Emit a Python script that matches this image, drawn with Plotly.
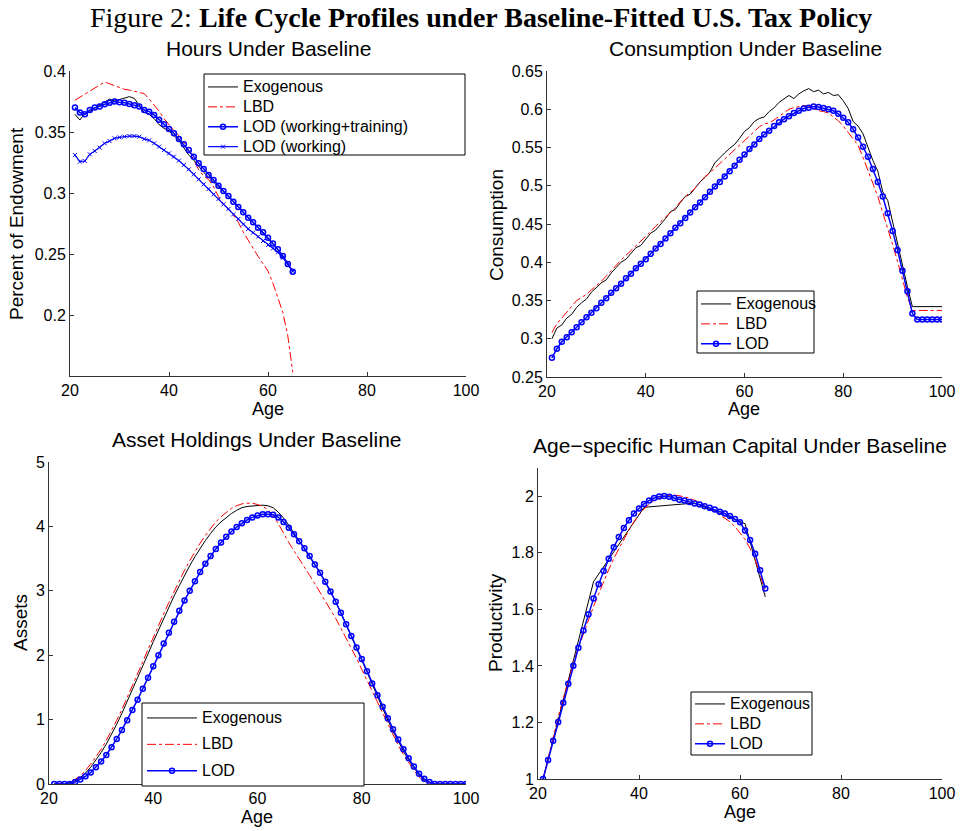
import plotly.graph_objects as go

# ---------------- data ----------------
ages_work = list(range(21, 66))
ages_life = list(range(21, 101))

hours_exo = [0.3645, 0.3598, 0.3653, 0.3667, 0.3694, 0.372, 0.3743, 0.377, 0.3754, 0.3768, 0.378, 0.379, 0.3775,
             0.372, 0.366, 0.3645, 0.361, 0.356, 0.353, 0.351, 0.347, 0.343, 0.337, 0.331, 0.327, 0.322, 0.317,
             0.313, 0.309, 0.305, 0.301, 0.2975, 0.293, 0.2885, 0.2842, 0.2798, 0.276, 0.2716, 0.268, 0.2637,
             0.2588, 0.2535, 0.248, 0.2418, 0.235]
hours_lbd = [0.376, 0.3785, 0.381, 0.3835, 0.386, 0.3885, 0.391, 0.3895, 0.388, 0.3865, 0.385, 0.3843, 0.3835,
             0.3826, 0.3815, 0.377, 0.372, 0.367, 0.361, 0.356, 0.351, 0.347, 0.341, 0.335, 0.327, 0.319, 0.314,
             0.311, 0.305, 0.297, 0.291, 0.287, 0.282, 0.276, 0.268, 0.261, 0.255, 0.248, 0.242, 0.236, 0.226,
             0.214, 0.202, 0.183, 0.153]
hours_lod_wt = [0.370, 0.366, 0.3645, 0.368, 0.370, 0.371, 0.3727, 0.374, 0.3749, 0.3743, 0.374, 0.373, 0.372,
                0.371, 0.368, 0.3667, 0.364, 0.360, 0.3563, 0.3525, 0.349, 0.3443, 0.340, 0.3352, 0.3298, 0.3243,
                0.3197, 0.3148, 0.3107, 0.306, 0.3016, 0.2975, 0.2929, 0.2885, 0.2842, 0.2798, 0.276, 0.2716,
                0.2678, 0.2634, 0.2587, 0.2538, 0.2484, 0.2418, 0.2355]
hours_lod_w = [0.3311, 0.3257, 0.3262, 0.3317, 0.3344, 0.3372, 0.3407, 0.3426, 0.3448, 0.3456, 0.3462, 0.3467,
               0.3467, 0.3462, 0.3443, 0.3432, 0.3407, 0.338, 0.3352, 0.3325, 0.3298, 0.3265, 0.323, 0.3194,
               0.3153, 0.3112, 0.3071, 0.3033, 0.2989, 0.2951, 0.2907, 0.2869, 0.2825, 0.2787, 0.2743, 0.2705,
               0.2675, 0.2642, 0.2607, 0.2574, 0.2546, 0.2514, 0.247, 0.2418, 0.236]

cons_exo = [0.300, 0.314, 0.318, 0.327, 0.332, 0.341, 0.347, 0.352, 0.361, 0.367, 0.373, 0.377, 0.386, 0.393,
            0.400, 0.404, 0.412, 0.419, 0.422, 0.430, 0.438, 0.442, 0.449, 0.457, 0.466, 0.469, 0.478, 0.486,
            0.489, 0.497, 0.505, 0.511, 0.518, 0.530, 0.537, 0.543, 0.549, 0.554, 0.562, 0.571, 0.576, 0.584,
            0.588, 0.590, 0.597, 0.602, 0.609, 0.614, 0.618, 0.614, 0.620, 0.624, 0.627, 0.623, 0.625, 0.620,
            0.622, 0.618, 0.619, 0.611, 0.601, 0.584, 0.578, 0.568, 0.550, 0.533, 0.519, 0.492, 0.481, 0.452,
            0.424, 0.394, 0.368, 0.342, 0.342, 0.342, 0.342, 0.342, 0.342, 0.342]
cons_lbd = [0.308, 0.320, 0.327, 0.335, 0.343, 0.350, 0.354, 0.358, 0.364, 0.369, 0.375, 0.382, 0.389, 0.397,
            0.403, 0.409, 0.415, 0.421, 0.427, 0.434, 0.440, 0.447, 0.453, 0.460, 0.466, 0.471, 0.479, 0.486,
            0.491, 0.497, 0.505, 0.512, 0.517, 0.523, 0.528, 0.534, 0.540, 0.546, 0.552, 0.558, 0.565, 0.571,
            0.577, 0.581, 0.582, 0.586, 0.591, 0.596, 0.600, 0.602, 0.604, 0.605, 0.604, 0.601, 0.598, 0.597,
            0.595, 0.590, 0.585, 0.578, 0.570, 0.561, 0.553, 0.537, 0.521, 0.503, 0.486, 0.466, 0.445, 0.423,
            0.401, 0.378, 0.354, 0.337, 0.337, 0.337, 0.337, 0.337, 0.337, 0.337]
cons_lod = [0.275, 0.287, 0.296, 0.302, 0.3085, 0.315, 0.3215, 0.328, 0.334, 0.340, 0.347, 0.353, 0.360, 0.366,
            0.372, 0.379, 0.385, 0.392, 0.398, 0.404, 0.411, 0.418, 0.424, 0.431, 0.438, 0.445, 0.451, 0.458,
            0.465, 0.472, 0.478, 0.485, 0.492, 0.499, 0.505, 0.512, 0.519, 0.526, 0.534, 0.541, 0.548, 0.554,
            0.561, 0.567, 0.572, 0.578, 0.583, 0.587, 0.591, 0.595, 0.598, 0.601, 0.602, 0.6035, 0.603, 0.6015,
            0.600, 0.598, 0.594, 0.589, 0.583, 0.574, 0.563, 0.551, 0.538, 0.522, 0.505, 0.486, 0.464, 0.441,
            0.416, 0.389, 0.362, 0.333, 0.325, 0.325, 0.325, 0.325, 0.325, 0.325]

assets_exo = [0, 0, 0, 0.02, 0.05, 0.10, 0.17, 0.26, 0.37, 0.49, 0.62, 0.77, 0.93, 1.10, 1.28, 1.46, 1.65, 1.84,
              2.02, 2.21, 2.39, 2.57, 2.75, 2.92, 3.08, 3.24, 3.39, 3.53, 3.66, 3.78, 3.89, 3.99, 4.07, 4.14,
              4.20, 4.25, 4.29, 4.31, 4.32, 4.33, 4.33, 4.32, 4.29, 4.22, 4.13, 4.02, 3.90, 3.78, 3.66, 3.54,
              3.41, 3.28, 3.14, 2.99, 2.83, 2.66, 2.48, 2.30, 2.12, 1.93, 1.74, 1.55, 1.36, 1.17, 0.99, 0.82,
              0.66, 0.51, 0.37, 0.25, 0.14, 0.06, 0.02, 0, 0, 0, 0, 0, 0, 0]
assets_lbd = [0, 0, 0.01, 0.03, 0.07, 0.13, 0.21, 0.31, 0.42, 0.54, 0.68, 0.83, 0.99, 1.16, 1.34, 1.52, 1.71,
              1.90, 2.09, 2.28, 2.46, 2.64, 2.82, 2.99, 3.16, 3.32, 3.47, 3.61, 3.74, 3.86, 3.97, 4.07, 4.15,
              4.22, 4.28, 4.32, 4.35, 4.36, 4.36, 4.34, 4.31, 4.26, 4.17, 4.04, 3.89, 3.75, 3.62, 3.50, 3.37,
              3.24, 3.11, 2.98, 2.85, 2.71, 2.57, 2.42, 2.27, 2.11, 1.95, 1.78, 1.61, 1.44, 1.27, 1.09, 0.92,
              0.76, 0.60, 0.46, 0.33, 0.21, 0.11, 0.04, 0.01, 0, 0, 0, 0, 0, 0, 0]
assets_lod = [0, 0, 0, 0, 0.03, 0.07, 0.12, 0.18, 0.26, 0.35, 0.45, 0.57, 0.70, 0.84, 0.99, 1.15, 1.31, 1.48,
              1.65, 1.83, 2.00, 2.18, 2.35, 2.52, 2.69, 2.85, 3.00, 3.15, 3.29, 3.42, 3.54, 3.65, 3.75, 3.84,
              3.92, 3.99, 4.05, 4.10, 4.14, 4.17, 4.19, 4.19, 4.18, 4.14, 4.07, 3.98, 3.88, 3.77, 3.66, 3.54,
              3.41, 3.28, 3.14, 2.99, 2.83, 2.66, 2.48, 2.30, 2.12, 1.94, 1.75, 1.56, 1.38, 1.20, 1.02, 0.85,
              0.69, 0.54, 0.40, 0.27, 0.16, 0.08, 0.03, 0, 0, 0, 0, 0, 0, 0]

prod_exo_ages = [21, 31, 41, 51, 61, 65]
prod_exo = [1.0, 1.698, 1.961, 1.976, 1.903, 1.644]
prod_lbd = [1.0, 1.075, 1.15, 1.22, 1.285, 1.35, 1.41, 1.465, 1.515, 1.565, 1.61, 1.655, 1.70, 1.74, 1.78,
            1.815, 1.85, 1.88, 1.91, 1.935, 1.955, 1.972, 1.985, 1.994, 2.0, 2.003, 2.004, 2.002, 1.998, 1.993,
            1.986, 1.978, 1.969, 1.958, 1.946, 1.936, 1.924, 1.91, 1.893, 1.872, 1.847, 1.815, 1.775, 1.725,
            1.655]
prod_lod = [1.0, 1.067, 1.135, 1.202, 1.27, 1.337, 1.401, 1.464, 1.525, 1.583, 1.638, 1.689, 1.736, 1.779,
            1.82, 1.856, 1.888, 1.915, 1.939, 1.957, 1.973, 1.985, 1.994, 1.999, 2.001, 1.998, 1.994, 1.988,
            1.985, 1.98, 1.974, 1.971, 1.965, 1.959, 1.953, 1.945, 1.939, 1.93, 1.92, 1.908, 1.879, 1.845,
            1.797, 1.738, 1.674]

x_ticks = [20, 40, 60, 80, 100]
hours_ticks = [0.2, 0.25, 0.3, 0.35, 0.4]
cons_ticks = [0.25, 0.3, 0.35, 0.4, 0.45, 0.5, 0.55, 0.6, 0.65]
assets_ticks = [0, 1, 2, 3, 4, 5]
prod_ticks = [1, 1.2, 1.4, 1.6, 1.8, 2]

# ---------------- figure ----------------
W, H = 961, 831
SANS = "Liberation Sans, Arial, sans-serif"
BLACK, RED, BLUE = "#000000", "#FF0000", "#0000FF"

fig = go.Figure()

def px_x(p):
    return p / W

def px_y(p):
    return 1 - p / H

def lg(name):
    # legend text rendered at 16px while row spacing follows the (smaller) legend font
    return "<span style='font-size:16px'>%s</span>" % name

def exo(x, y, xa, ya, leg, grp):
    return go.Scatter(x=x, y=y, xaxis=xa, yaxis=ya, mode="lines", name=lg("Exogenous"),
                      line=dict(color=BLACK, width=1), legend=leg, legendgroup=grp + "a")

def lbd(x, y, xa, ya, leg, grp):
    return go.Scatter(x=x, y=y, xaxis=xa, yaxis=ya, mode="lines", name=lg("LBD"),
                      line=dict(color=RED, width=1, dash="dashdot"), legend=leg, legendgroup=grp + "b")

def lod(x, y, xa, ya, leg, grp, name="LOD"):
    return go.Scatter(x=x, y=y, xaxis=xa, yaxis=ya, mode="lines+markers", name=lg(name),
                      line=dict(color=BLUE, width=1.5),
                      marker=dict(symbol="circle-open", size=5, color=BLUE, line=dict(width=1.5)),
                      legend=leg, legendgroup=grp + "c")

# Panel 1: hours
fig.add_trace(exo(ages_work, hours_exo, "x", "y", "legend", "p1"))
fig.add_trace(lbd(ages_work, hours_lbd, "x", "y", "legend", "p1"))
fig.add_trace(lod(ages_work, hours_lod_wt, "x", "y", "legend", "p1", "LOD (working+training)"))
fig.add_trace(go.Scatter(x=ages_work, y=hours_lod_w, xaxis="x", yaxis="y", mode="lines+markers",
                         name=lg("LOD (working)"), line=dict(color=BLUE, width=1.2),
                         marker=dict(symbol="x-thin-open", size=4, color=BLUE, line=dict(width=1, color=BLUE)),
                         legend="legend", legendgroup="p1d"))
# Panel 2: consumption
fig.add_trace(exo(ages_life, cons_exo, "x2", "y2", "legend2", "p2"))
fig.add_trace(lbd(ages_life, cons_lbd, "x2", "y2", "legend2", "p2"))
fig.add_trace(lod(ages_life, cons_lod, "x2", "y2", "legend2", "p2"))
# Panel 3: assets
fig.add_trace(exo(ages_life, assets_exo, "x3", "y3", "legend3", "p3"))
fig.add_trace(lbd(ages_life, assets_lbd, "x3", "y3", "legend3", "p3"))
fig.add_trace(lod(ages_life, assets_lod, "x3", "y3", "legend3", "p3"))
# Panel 4: productivity
fig.add_trace(exo(prod_exo_ages, prod_exo, "x4", "y4", "legend4", "p4"))
fig.add_trace(lbd(ages_work, prod_lbd, "x4", "y4", "legend4", "p4"))
fig.add_trace(lod(ages_work, prod_lod, "x4", "y4", "legend4", "p4"))

axis_common = dict(showline=True, linecolor="#333333", linewidth=1, mirror=False, ticks="inside",
                   ticklen=4, tickcolor="#333333", showgrid=False, zeroline=False, automargin=False,
                   tickfont=dict(family=SANS, size=16, color="black"))

def xaxis(left, right, anchor):
    return dict(domain=[px_x(left), px_x(right)], range=[20, 100], tickvals=x_ticks,
                ticktext=[str(v) for v in x_ticks], anchor=anchor, **axis_common)

def yaxis(top, bottom, rng, ticks, anchor):
    return dict(domain=[px_y(bottom), px_y(top)], range=rng, tickvals=ticks,
                ticktext=[("%g" % v) for v in ticks], anchor=anchor, **axis_common)

legend_common = dict(bgcolor="rgba(0,0,0,0)", borderwidth=0,
                     font=dict(family=SANS, size=13, color="black"),
                     xanchor="left", yanchor="top", itemclick=False)

fig.update_layout(
    width=W, height=H,
    margin=dict(l=0, r=0, t=0, b=0, autoexpand=False),
    paper_bgcolor="white", plot_bgcolor="white",
    xaxis=xaxis(70, 466, "y"),
    yaxis=yaxis(71, 376, [0.15, 0.4], hours_ticks, "x"),
    xaxis2=xaxis(547, 942, "y2"),
    yaxis2=yaxis(71, 377, [0.25, 0.65], cons_ticks, "x2"),
    xaxis3=xaxis(49, 466, "y3"),
    yaxis3=yaxis(462, 784, [0, 5], assets_ticks, "x3"),
    xaxis4=xaxis(538, 942, "y4"),
    yaxis4=yaxis(468, 779, [1, 2.1], prod_ticks, "x4"),
    legend=dict(x=px_x(203), y=px_y(72), traceorder="normal", tracegroupgap=0, **legend_common),
    legend2=dict(x=px_x(696), y=px_y(289), traceorder="normal", tracegroupgap=0, **legend_common),
    legend3=dict(x=px_x(142), y=px_y(703), traceorder="grouped", tracegroupgap=6.5, itemwidth=50,
                 **legend_common),
    legend4=dict(x=px_x(690), y=px_y(689), traceorder="normal", tracegroupgap=0, **legend_common),
    showlegend=True,
)

# legend frames (MATLAB-style boxes)
legend_boxes = [(204, 74, 465, 155), (697, 291, 814, 353), (142, 703, 364, 786), (691, 692, 812, 755)]
for (x0, y0, x1, y1) in legend_boxes:
    fig.add_shape(type="rect", xref="paper", yref="paper", x0=px_x(x0), x1=px_x(x1), y0=px_y(y1),
                  y1=px_y(y0), line=dict(color="black", width=1), fillcolor="white", layer="above")

def ann(text, x, y, size, angle=0, family=SANS, yanchor="middle"):
    fig.add_annotation(text=text, x=px_x(x), y=px_y(y), xref="paper", yref="paper",
                       showarrow=False, textangle=angle, xanchor="center", yanchor=yanchor,
                       font=dict(family=family, size=size, color="black"))

# main title
ann("Figure 2: <b>Life Cycle Profiles under Baseline-Fitted U.S. Tax Policy</b>", 481, 0, 28,
    family="Liberation Serif, Times New Roman, serif", yanchor="top")
# subplot titles
ann("Hours Under Baseline", 268, 48, 21)
ann("Consumption Under Baseline", 745, 48, 21)
ann("Asset Holdings Under Baseline", 257, 439, 21)
ann("Age\u2212specific Human Capital Under Baseline", 740, 445, 21)
# axis titles
ann("Age", 268, 409, 18)
ann("Age", 744, 409, 18)
ann("Age", 257, 817, 18)
ann("Age", 740, 812, 18)
ann("Percent of Endowment", 17, 224, 19, -90)
ann("Consumption", 496, 225, 19, -90)
ann("Assets", 20, 623, 19, -90)
ann("Productivity", 495, 623, 19, -90)

fig.write_html("out.html", config={"displayModeBar": False},
               post_script="document.body.style.margin='0';document.body.style.overflow='hidden';")
